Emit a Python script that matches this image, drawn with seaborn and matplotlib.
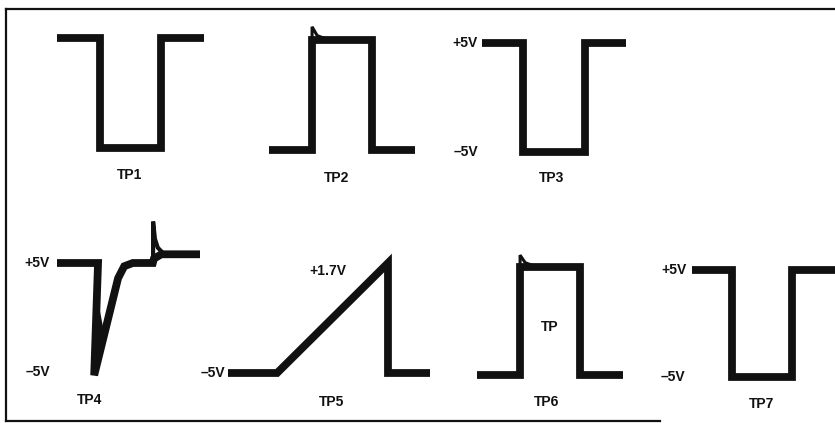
import matplotlib
matplotlib.use("Agg")
import matplotlib.pyplot as plt
import seaborn as sns
import pandas as pd

# ---- data: waveforms (normalised time 0..10, volts) ----
tp1_t = [0, 2.9, 2.9, 7.1, 7.1, 10]
tp1_v = [5, 5, -5, -5, 5, 5]

tp2_t = [0, 2.95, 2.95, 7.05, 7.05, 10]
tp2_v = [-5, -5, 5, 5, -5, -5]
tp2_spike_t = [2.95, 2.95, 3.3, 3.9]
tp2_spike_v = [5, 6.2, 5.4, 5.1]

tp3_t = [0, 2.85, 2.85, 7.15, 7.15, 10]
tp3_v = [5, 5, -5, -5, 5, 5]

tp4_t = [0, 2.87, 2.6, 4.27, 4.7, 5.3, 6.7, 6.78, 7.3, 10]
tp4_v = [5, 5, -5.3, 3.6, 4.7, 5.0, 5.0, 5.4, 5.8, 5.8]
tp4_spike_t = [6.72, 6.72, 6.85, 7.05, 7.35]
tp4_spike_v = [5.0, 8.8, 7.2, 6.4, 6.0]
tp4_wedge_t = [2.6, 2.8, 3.31]
tp4_wedge_v = [-5.3, 2.0, -1.5]

tp5_t = [0, 2.43, 7.92, 7.92, 10]
tp5_v = [-5, -5, 1.7, -5, -5]

tp6_t = [0, 2.95, 2.95, 7.05, 7.05, 10]
tp6_v = [-5, -5, 5, 5, -5, -5]
tp6_spike_t = [2.95, 2.95, 3.3, 3.9]
tp6_spike_v = [5, 6.1, 5.4, 5.1]

tp7_t = [0, 2.8, 2.8, 7.0, 7.0, 10]
tp7_v = [5, 5, -5, -5, 5, 5]

names = ["TP1", "TP2", "TP3", "TP4", "TP5", "TP6", "TP7"]

# ---- layout (pixels in an 835x423 canvas) ----
W, H = 835, 423
boxes = {  # x0, x1, y of top level, y of bottom level, top volts, bottom volts
    "TP1": (57, 204, 38, 148, 5, -5),
    "TP2": (269, 415, 40, 150, 5, -5),
    "TP3": (482, 626, 43, 152, 5, -5),
    "TP4": (57, 200, 263, 372, 5, -5),
    "TP5": (228, 430, 263, 373, 1.7, -5),
    "TP6": (477, 623, 267, 375, 5, -5),
    "TP7": (692, 835, 270, 377, 5, -5),
}
label_pos = {"TP1": (130, 175), "TP2": (337, 178), "TP3": (552, 178),
             "TP4": (90, 400), "TP5": (332, 402), "TP6": (547, 402),
             "TP7": (762, 404)}

sns.set_theme(style="white")
plt.rcParams["font.family"] = ["Liberation Sans", "DejaVu Sans"]

fig = plt.figure(figsize=(W / 100, H / 100), dpi=100)
fig.patch.set_facecolor("white")

# border frame
bg = fig.add_axes([6 / W, 1 - 421 / H, (W - 6) / W, (421 - 9) / H])
bg.set_xlim(0, 1)
bg.set_ylim(0, 1)
bg.set_xticks([])
bg.set_yticks([])
bg.patch.set_alpha(0)
for s in ["left", "top", "bottom"]:
    bg.spines[s].set_color("#111111")
    bg.spines[s].set_linewidth(1.6)
bg.spines["right"].set_visible(False)
bg.spines["bottom"].set_bounds(0, (660 - 6) / (W - 6))

INK = "#111111"
LW = 5.6
series = {
    "TP1": (tp1_t, tp1_v), "TP2": (tp2_t, tp2_v), "TP3": (tp3_t, tp3_v),
    "TP4": (tp4_t, tp4_v), "TP5": (tp5_t, tp5_v), "TP6": (tp6_t, tp6_v),
    "TP7": (tp7_t, tp7_v),
}
spikes = {"TP2": (tp2_spike_t, tp2_spike_v, 2.2),
          "TP6": (tp6_spike_t, tp6_spike_v, 2.2),
          "TP4": (tp4_spike_t, tp4_spike_v, 3.0)}

axes = {}
for name in names:
    x0, x1, yt, yb, vt, vb = boxes[name]
    ax = fig.add_axes([x0 / W, 1 - yb / H, (x1 - x0) / W, (yb - yt) / H])
    ax.set_xlim(0, 10)
    ax.set_ylim(vb, vt)
    ax.axis("off")
    t, v = series[name]
    df = pd.DataFrame({"t": t, "v": v})
    sns.lineplot(data=df, x="t", y="v", ax=ax, sort=False, estimator=None,
                 color=INK, linewidth=LW, clip_on=False,
                 solid_joinstyle="miter", solid_capstyle="butt")
    if name in spikes:
        st, sv, slw = spikes[name]
        sdf = pd.DataFrame({"t": st, "v": sv})
        sns.lineplot(data=sdf, x="t", y="v", ax=ax, sort=False, estimator=None,
                     color=INK, linewidth=slw, clip_on=False,
                     solid_joinstyle="miter")
    axes[name] = ax
    lx, ly = label_pos[name]
    fig.text(lx / W, 1 - ly / H, name, ha="center", va="center",
             fontsize=10, fontweight="bold", color=INK)

# filled wedge at the bottom of the TP4 dip
axes["TP4"].fill(tp4_wedge_t, tp4_wedge_v, color=INK, lw=0, clip_on=False)

def vlabel(ax, v, text, dx=-4):
    ax.annotate(text, xy=(0, v), xycoords=("axes fraction", "data"),
                xytext=(dx, 0), textcoords="offset pixels",
                ha="right", va="center", fontsize=10, fontweight="bold",
                color=INK, annotation_clip=False)

vlabel(axes["TP3"], 5, "+5V")
vlabel(axes["TP3"], -5, "–5V")
vlabel(axes["TP4"], 5, "+5V", dx=-7)
vlabel(axes["TP4"], -5, "–5V", dx=-7)
vlabel(axes["TP5"], -5, "–5V", dx=-3)
vlabel(axes["TP7"], 5, "+5V", dx=-5)
vlabel(axes["TP7"], -5, "–5V", dx=-7)

axes["TP5"].text(4.95, 1.2, "+1.7V", ha="center", va="center",
                 fontsize=10, fontweight="bold", color=INK)
axes["TP6"].text(5.0, -0.56, "TP", ha="center", va="center",
                 fontsize=10, fontweight="bold", color=INK)

fig.savefig("out.png", dpi=100, facecolor="white")
